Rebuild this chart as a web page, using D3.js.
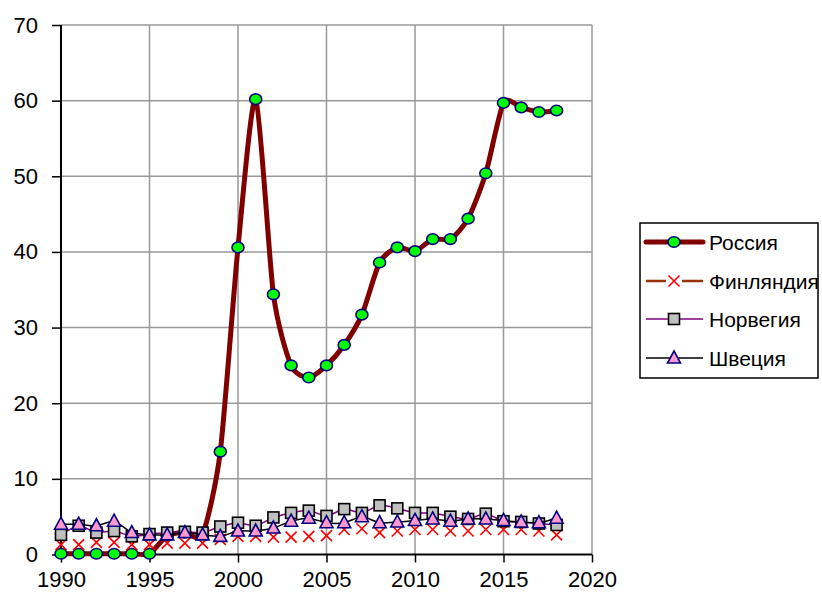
<!DOCTYPE html>
<html><head><meta charset="utf-8">
<script src="https://cdn.jsdelivr.net/npm/d3@7"></script>
<style>body{margin:0;background:#fff}svg{display:block}</style>
</head><body>
<svg id="c" width="822" height="595"></svg>
<script>
const years = d3.range(1990, 2019);
const russia  = [0.1,0.1,0.1,0.1,0.1,0.1,2.5,2.9,2.7,13.6,40.6,60.2,34.4,25.0,23.4,25.0,27.7,31.7,38.6,40.6,40.1,41.7,41.7,44.4,50.4,59.7,59.1,58.5,58.7];
const finland = [1.3,1.3,1.6,1.6,1.3,1.3,1.5,1.5,1.5,2.0,2.4,2.4,2.3,2.3,2.4,2.5,3.3,3.4,2.9,3.1,3.3,3.3,3.1,3.1,3.3,3.3,3.3,3.1,2.6];
const norway  = [2.6,3.8,2.9,3.1,2.4,2.7,2.9,3.0,2.9,3.7,4.2,3.8,4.9,5.5,5.8,5.1,6.0,5.5,6.5,6.1,5.5,5.5,5.0,4.7,5.4,4.4,4.3,4.1,3.9];
const sweden  = [4.0,4.0,3.8,4.4,2.9,2.6,2.6,2.9,2.6,2.4,3.1,3.1,3.5,4.4,4.8,4.2,4.2,5.0,4.2,4.3,4.5,4.7,4.4,4.7,4.7,4.5,4.3,4.2,4.8];
const seriesNames = ["Россия","Финляндия","Норвегия","Швеция"];
const xTicks = [1990,1995,2000,2005,2010,2015,2020];
const yTicks = [0,10,20,30,40,50,60,70];

const svg = d3.select("#c");
const x = d3.scaleLinear().domain([1990,2020]).range([61,592]);
const y = d3.scaleLinear().domain([0,70]).range([554.5,25]);
const font = "'Liberation Sans', Arial, sans-serif";

// grid
svg.append("g").selectAll("line").data(yTicks.filter(d=>d>0)).join("line")
  .attr("x1",x(1990)).attr("x2",x(2020)).attr("y1",d=>y(d)).attr("y2",d=>y(d))
  .attr("stroke","#999").attr("stroke-width",1.5);
svg.append("g").selectAll("line").data(xTicks.filter(d=>d>1990)).join("line")
  .attr("x1",d=>x(d)).attr("x2",d=>x(d)).attr("y1",y(0)).attr("y2",y(70))
  .attr("stroke","#999").attr("stroke-width",1.5);

// axes
const yAxis = svg.append("g").attr("transform",`translate(${x(1990)},0)`)
  .call(d3.axisLeft(y).tickValues(yTicks).tickSize(9).tickPadding(14));
const xAxis = svg.append("g").attr("transform",`translate(0,${y(0)})`)
  .call(d3.axisBottom(x).tickValues(xTicks).tickFormat(d3.format("d")).tickSize(8).tickPadding(9));
[yAxis,xAxis].forEach(a=>{
  a.select(".domain").attr("stroke","#000").attr("stroke-width",2);
  a.selectAll(".tick line").attr("stroke","#000").attr("stroke-width",1.5);
  a.selectAll("text").attr("font-family",font).attr("font-size",22).attr("fill","#000");
});
yAxis.select(".domain").attr("d",`M0,${y(0)}V${y(70)}`);
xAxis.select(".domain").attr("d",`M${x(1990)},0H${x(2020)}`);

const line = d3.line().x((d,i)=>x(years[i])).y(d=>y(d)).curve(d3.curveCardinal.tension(0.3));

// markers
function circleM(g, cx, cy){ g.append("ellipse").attr("cx",cx).attr("cy",cy).attr("rx",6).attr("ry",5.3)
  .attr("fill","#00ff00").attr("stroke","#000080").attr("stroke-width",1.6); }
function crossM(g, cx, cy){ const s=5.5; g.append("path").attr("d",`M${cx-s},${cy-s}L${cx+s},${cy+s}M${cx-s},${cy+s}L${cx+s},${cy-s}`)
  .attr("stroke","#ff0000").attr("stroke-width",1.6).attr("fill","none"); }
function squareM(g, cx, cy){ g.append("rect").attr("x",cx-5.5).attr("y",cy-5.5).attr("width",11).attr("height",11)
  .attr("fill","#c0c0c0").attr("stroke","#000").attr("stroke-width",1.6); }
function triM(g, cx, cy){ g.append("path").attr("d",`M${cx},${cy-7}L${cx+6.5},${cy+5}L${cx-6.5},${cy+5}Z`)
  .attr("fill","#ff99cc").attr("stroke","#000080").attr("stroke-width",1.6); }

const plot = svg.append("g");
// Russia
plot.append("path").attr("d",line(russia)).attr("fill","none").attr("stroke","#800000").attr("stroke-width",5).attr("stroke-linejoin","round");
const gR = plot.append("g"); russia.forEach((v,i)=>circleM(gR,x(years[i]),y(v)));
// Finland
const gF = plot.append("g"); finland.forEach((v,i)=>crossM(gF,x(years[i]),y(v)));
// Norway
plot.append("path").attr("d",line(norway)).attr("fill","none").attr("stroke","#800080").attr("stroke-width",1.5);
const gN = plot.append("g"); norway.forEach((v,i)=>squareM(gN,x(years[i]),y(v)));
// Sweden
plot.append("path").attr("d",line(sweden)).attr("fill","none").attr("stroke","#000").attr("stroke-width",1.5);
const gS = plot.append("g"); sweden.forEach((v,i)=>triM(gS,x(years[i]),y(v)));

// legend
const lg = svg.append("g");
lg.append("rect").attr("x",640).attr("y",223).attr("width",178).attr("height",155)
  .attr("fill","#fff").attr("stroke","#000").attr("stroke-width",1.5);
const ly = [242,281,319,358];
const lineStyles = [["#800000",5],["#993300",2.5],["#800080",1.5],["#000",1.5]];
const mk = [circleM,crossM,squareM,triM];
seriesNames.forEach((n,i)=>{
  lg.append("line").attr("x1",646).attr("x2",703).attr("y1",ly[i]).attr("y2",ly[i])
    .attr("stroke",lineStyles[i][0]).attr("stroke-width",lineStyles[i][1]).attr("stroke-linecap",i===0?"round":"butt");
  if(i===1) lg.append("rect").attr("x",666).attr("y",ly[i]-7).attr("width",16).attr("height",14).attr("fill","#fff");
  mk[i](lg,674,ly[i]);
  lg.append("text").attr("x",709).attr("y",ly[i]+7.5).attr("font-family",font).attr("font-size",21).text(n);
});
</script>
</body></html>
